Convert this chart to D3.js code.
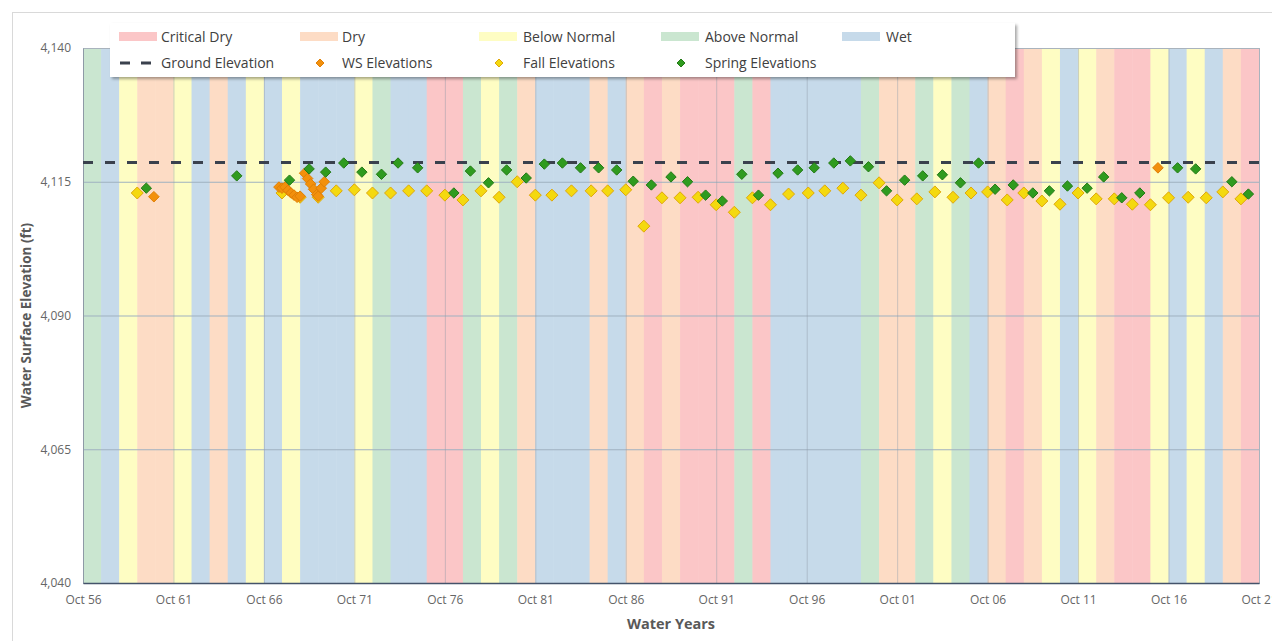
<!DOCTYPE html>
<html lang="en">
<head>
    <meta charset="UTF-8">
    <title>Water Surface Elevation</title>
    <script src="https://cdn.jsdelivr.net/npm/d3@7"></script>
    <style>
        body { margin: 0; background: #fff; }
        svg { display: block; font-family: "Open Sans", sans-serif; }
    </style>
</head>
<body>
<script type="text/javascript">
    // water year classification, one entry per water year starting WY1957
    const firstWaterYear = 1957;
    const yearTypes = [
        "AN", "W", "BN", "D", "D", "BN", "W", "D", "W", "BN",
        "W", "BN", "W", "W", "W", "BN", "AN", "W", "W", "C",
        "C", "AN", "BN", "AN", "D", "W", "W", "W", "D", "W",
        "D", "C", "D", "C", "C", "C", "AN", "C", "W", "W",
        "W", "W", "W", "AN", "D", "D", "AN", "BN", "AN", "W",
        "D", "C", "D", "BN", "W", "BN", "D", "C", "C", "BN",
        "W", "BN", "W", "D", "C"
    ];
    const typeCodes = ["C", "D", "BN", "AN", "W"];
    const typeNames = ["Critical Dry", "Dry", "Below Normal", "Above Normal", "Wet"];

    const groundElevation = 4118.6;

    const fallDates = ["1959-10", "1967-10", "1968-10", "1969-10", "1970-10", "1971-10", "1972-10", "1973-10",
        "1974-10", "1975-10", "1976-10", "1977-10", "1978-10", "1979-10", "1980-10", "1981-10", "1982-09",
        "1983-10", "1984-11", "1985-10", "1986-10", "1987-10", "1988-10", "1989-10", "1990-10", "1991-10",
        "1992-10", "1993-10", "1994-10", "1995-10", "1996-11", "1997-10", "1998-10", "1999-10", "2000-10",
        "2001-10", "2002-11", "2003-11", "2004-11", "2005-11", "2006-10", "2007-11", "2008-10", "2009-10",
        "2010-10", "2011-10", "2012-10", "2013-10", "2014-10", "2015-10", "2016-10", "2017-11", "2018-11",
        "2019-10", "2020-10"];
    const fallValues = [4112.9, 4112.9, 4112.1, 4112.1, 4113.3, 4113.5, 4112.9, 4112.9,
        4113.3, 4113.3, 4112.5, 4111.6, 4113.3, 4112.1, 4115.0, 4112.5, 4112.5,
        4113.3, 4113.3, 4113.3, 4113.5, 4106.7, 4112.0, 4112.0, 4112.1, 4110.7,
        4109.3, 4112.0, 4110.7, 4112.7, 4112.9, 4113.3, 4113.8, 4112.5, 4114.8,
        4111.6, 4111.8, 4113.1, 4112.1, 4112.9, 4113.1, 4111.6, 4112.9, 4111.4,
        4110.8, 4112.9, 4111.8, 4111.8, 4110.8, 4110.7, 4112.0, 4112.1, 4112.0,
        4113.1, 4111.8];

    const springDates = ["1960-04", "1965-04", "1968-03", "1969-04", "1970-03", "1971-03", "1972-03", "1973-04",
        "1974-03", "1975-04", "1977-04", "1978-03", "1979-03", "1980-03", "1981-04", "1982-04", "1983-04",
        "1984-04", "1985-04", "1986-04", "1987-03", "1988-03", "1989-04", "1990-03", "1991-03", "1992-02",
        "1993-03", "1994-02", "1995-03", "1996-04", "1997-03", "1998-04", "1999-03", "2000-03", "2001-03",
        "2002-03", "2003-03", "2004-04", "2005-04", "2006-04", "2007-03", "2008-03", "2009-04", "2010-03",
        "2011-03", "2012-04", "2013-03", "2014-03", "2015-03", "2017-04", "2018-04", "2020-04", "2021-03"];
    const springValues = [4113.8, 4116.1, 4115.3, 4117.4, 4116.8, 4118.5, 4116.8, 4116.4,
        4118.5, 4117.6, 4112.9, 4117.0, 4114.8, 4117.2, 4115.7, 4118.3, 4118.5,
        4117.6, 4117.6, 4117.2, 4115.1, 4114.4, 4115.9, 4115.0, 4112.5, 4111.4,
        4116.4, 4112.5, 4116.6, 4117.2, 4117.6, 4118.5, 4118.9, 4117.8, 4113.3,
        4115.3, 4116.1, 4116.3, 4114.8, 4118.5, 4113.6, 4114.4, 4112.9, 4113.3,
        4114.2, 4113.8, 4115.9, 4112.0, 4112.9, 4117.6, 4117.4, 4115.0, 4112.7];

    const wsDates = ["1960-09", "1967-08", "1967-10", "1967-12", "1968-02", "1968-04", "1968-06", "1968-08",
        "1968-10", "1969-01", "1969-03", "1969-05", "1969-07", "1969-09", "1969-10", "1969-12", "1970-02",
        "2016-03"];
    const wsValues = [4112.2, 4114.0, 4113.8, 4114.0, 4113.4, 4112.9, 4112.5, 4112.1,
        4112.3, 4116.6, 4115.6, 4114.6, 4113.6, 4112.6, 4112.3, 4113.8, 4115.0,
        4117.6];

    const yTicks = [4040, 4065, 4090, 4115, 4140];
    const xTickYears = [1956, 1961, 1966, 1971, 1976, 1981, 1986, 1991, 1996, 2001, 2006, 2011, 2016, 2021];

    const W = 1272, H = 641;
    const margin = {left: 83, right: 1259, top: 48, bottom: 583};
    const bandColor = {C: "#fbc6c7", D: "#fddcc5", BN: "#fefdc3", AN: "#cae6d0", W: "#c6daea"};
    const parseMonth = d3.timeParse("%Y-%m");

    const x = d3.scaleTime()
        .domain([new Date(1956, 9, 1), new Date(2021, 9, 1)])
        .range([margin.left, margin.right]);
    const y = d3.scaleLinear()
        .domain([4040, 4140])
        .range([margin.bottom, margin.top]);

    const svg = d3.select("body").append("svg")
        .attr("width", W)
        .attr("height", H);

    // outer chart frame
    svg.append("rect")
        .attr("x", 12.5).attr("y", 12.5)
        .attr("width", W).attr("height", H)
        .attr("fill", "#fff")
        .attr("stroke", "#d9d9d9");

    // water year bands
    svg.append("g")
        .selectAll("rect")
        .data(yearTypes.map((t, i) => ({year: firstWaterYear + i, type: t})))
        .join("rect")
        .attr("x", d => x(new Date(d.year - 1, 9, 1)))
        .attr("width", d => x(new Date(d.year, 9, 1)) - x(new Date(d.year - 1, 9, 1)) + 0.5)
        .attr("y", margin.top)
        .attr("height", margin.bottom - margin.top)
        .attr("fill", d => bandColor[d.type]);

    // grid
    svg.append("g")
        .selectAll("line")
        .data(yTicks.slice(1))
        .join("line")
        .attr("x1", margin.left).attr("x2", margin.right)
        .attr("y1", d => y(d) + 0.5).attr("y2", d => y(d) + 0.5)
        .attr("stroke", "#9fb1c0")
        .attr("stroke-width", 1);

    svg.append("g")
        .selectAll("line")
        .data(xTickYears.slice(1, -1))
        .join("line")
        .attr("x1", d => x(new Date(d, 9, 1)) + 0.5).attr("x2", d => x(new Date(d, 9, 1)) + 0.5)
        .attr("y1", margin.top).attr("y2", margin.bottom)
        .attr("stroke", "#8e9aa6")
        .attr("stroke-opacity", 0.45);

    // plot border
    svg.append("rect")
        .attr("x", margin.left + 0.5).attr("y", margin.top + 0.5)
        .attr("width", margin.right - margin.left).attr("height", margin.bottom - margin.top)
        .attr("fill", "none")
        .attr("stroke", "#a9b3bd");

    // axes
    const yAxis = svg.append("g")
        .attr("transform", `translate(${margin.left},0)`)
        .call(d3.axisLeft(y).tickValues(yTicks).tickFormat(d3.format(",")).tickSize(0).tickPadding(12));
    const xAxis = svg.append("g")
        .attr("transform", `translate(0,${margin.bottom})`)
        .call(d3.axisBottom(x)
            .tickValues(xTickYears.map(yr => new Date(yr, 9, 1)))
            .tickFormat(d3.timeFormat("%b %y"))
            .tickSize(0).tickPadding(12));
    yAxis.select(".domain").attr("stroke", "#8e9aa6");
    xAxis.select(".domain").attr("stroke", "#44536a").attr("stroke-width", 1.5);
    svg.selectAll(".tick text")
        .attr("fill", "#666")
        .style("font-size", "12px")
        .style("font-family", "Open Sans, sans-serif");

    svg.append("text")
        .attr("transform", `translate(31,${(margin.top + margin.bottom) / 2}) rotate(-90)`)
        .attr("text-anchor", "middle")
        .attr("fill", "#595959")
        .style("font-size", "13.5px")
        .style("font-weight", "bold")
        .text("Water Surface Elevation (ft)");

    svg.append("text")
        .attr("x", 671).attr("y", 629)
        .attr("text-anchor", "middle")
        .attr("fill", "#595959")
        .style("font-size", "14.5px")
        .style("font-weight", "bold")
        .text("Water Years");

    // ground elevation
    svg.append("line")
        .attr("x1", margin.left).attr("x2", margin.right)
        .attr("y1", y(groundElevation)).attr("y2", y(groundElevation))
        .attr("stroke", "#3a414d")
        .attr("stroke-width", 3)
        .attr("stroke-dasharray", "10,12");

    const diamond = r => `M0,${-r}L${r},0L0,${r}L${-r},0Z`;

    function drawPoints(dates, values, r, fill, stroke) {
        svg.append("g")
            .selectAll("path")
            .data(dates.map((d, i) => ({date: parseMonth(d), value: values[i]})))
            .join("path")
            .attr("transform", d => `translate(${x(d.date)},${y(d.value)})`)
            .attr("d", diamond(r))
            .attr("fill", fill)
            .attr("stroke", stroke)
            .attr("stroke-width", 1);
    }

    drawPoints(fallDates, fallValues, 6, "#f4d90f", "#dfa70a");
    drawPoints(wsDates, wsValues, 5.3, "#f2900c", "#e07f06");
    drawPoints(springDates, springValues, 5.2, "#2f9b1f", "#237a15");

    // legend
    const defs = svg.append("defs");
    const f = defs.append("filter").attr("id", "shadow").attr("x", "-5%").attr("y", "-20%")
        .attr("width", "110%").attr("height", "150%");
    f.append("feDropShadow").attr("dx", 2).attr("dy", 2).attr("stdDeviation", 1.5)
        .attr("flood-color", "#000").attr("flood-opacity", 0.35);

    const legend = svg.append("g");
    legend.append("rect")
        .attr("x", 110).attr("y", 23)
        .attr("width", 905).attr("height", 54)
        .attr("fill", "#fff")
        .attr("filter", "url(#shadow)");

    const colX = [119, 300, 479, 661, 842];
    const textX = [161, 342, 523, 705, 886];
    typeCodes.forEach((c, i) => {
        legend.append("rect")
            .attr("x", colX[i]).attr("y", 32)
            .attr("width", 38).attr("height", 9)
            .attr("fill", bandColor[c]);
        legend.append("text")
            .attr("x", textX[i]).attr("y", 42)
            .attr("fill", "#404040")
            .style("font-size", "14px")
            .text(typeNames[i]);
    });

    legend.append("line")
        .attr("x1", 120).attr("x2", 157)
        .attr("y1", 63).attr("y2", 63)
        .attr("stroke", "#3a414d")
        .attr("stroke-width", 3)
        .attr("stroke-dasharray", "10,11");

    const row2 = [
        {name: "Ground Elevation", tx: 161},
        {name: "WS Elevations", tx: 342, mx: 320, fill: "#f2900c", stroke: "#e07f06"},
        {name: "Fall Elevations", tx: 523, mx: 499, fill: "#f4d90f", stroke: "#dfa70a"},
        {name: "Spring Elevations", tx: 705, mx: 681, fill: "#2f9b1f", stroke: "#237a15"}
    ];
    row2.forEach(d => {
        if (d.mx) {
            legend.append("path")
                .attr("transform", `translate(${d.mx},63)`)
                .attr("d", diamond(4))
                .attr("fill", d.fill)
                .attr("stroke", d.stroke);
        }
        legend.append("text")
            .attr("x", d.tx).attr("y", 68)
            .attr("fill", "#404040")
            .style("font-size", "14px")
            .text(d.name);
    });
</script>
</body>
</html>
